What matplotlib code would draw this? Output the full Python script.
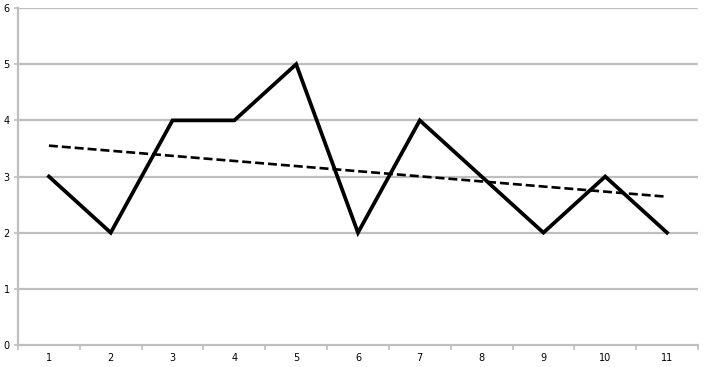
import matplotlib
matplotlib.use("Agg")
import matplotlib.pyplot as plt

# values
categories = [1, 2, 3, 4, 5, 6, 7, 8, 9, 10, 11]
values = [3, 2, 4, 4, 5, 2, 4, 3, 2, 3, 2]
# linear trendline, start/end
trend_x = [1, 11]
trend_y = [3.55, 2.64]
y_ticks = [0, 1, 2, 3, 4, 5, 6]

fig = plt.figure(figsize=(7.09, 3.67), dpi=100)
ax = fig.add_axes([0.0254, 0.06, 0.959, 0.918])

grid_col = "#bfbfbf"
for y in y_ticks[1:]:
    ax.axhline(y, color=grid_col, lw=1.6, zorder=1)

ax.plot(categories, values, color="black", lw=2.7, zorder=3, solid_joinstyle="miter")
ax.plot(trend_x, trend_y, color="black", lw=1.9, ls=(0, (3.4, 1.5)), zorder=2)

ax.set_xlim(0.5, 11.5)
ax.set_ylim(0, 6)

for side in ["top", "right"]:
    ax.spines[side].set_visible(False)
for side in ["left", "bottom"]:
    ax.spines[side].set_color(grid_col)
    ax.spines[side].set_linewidth(1.6)

ax.set_yticks(y_ticks)
ax.set_yticklabels([str(t) for t in y_ticks], fontsize=7)
ax.set_xticks(categories)
ax.set_xticklabels([str(c) for c in categories], fontsize=7)
ax.set_xticks([c + 0.5 for c in [0] + categories], minor=True)
ax.tick_params(axis="x", which="major", length=0, pad=6)
ax.tick_params(axis="x", which="minor", length=3.5, color=grid_col, width=1.2)
ax.tick_params(axis="y", length=3, color=grid_col, width=1.2, pad=3)

fig.savefig("out.png", dpi=100)
